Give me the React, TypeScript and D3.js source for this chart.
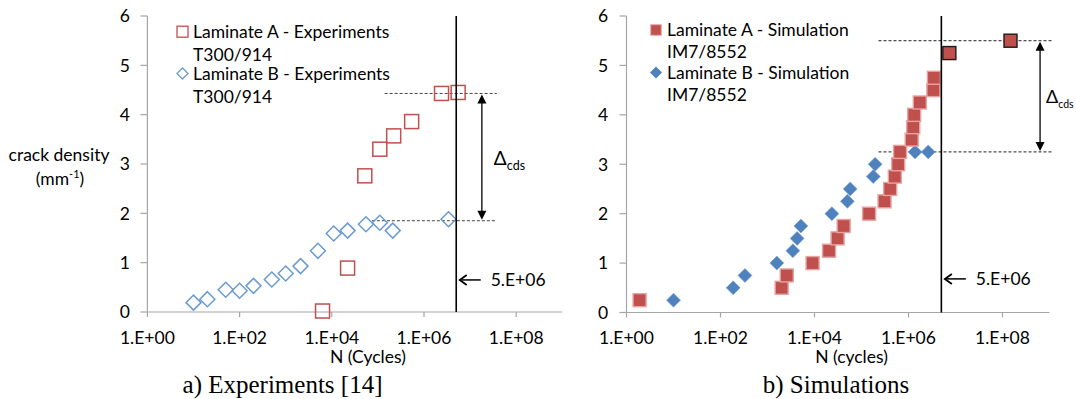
import React from "react";
import * as d3 from "d3";

// ---------- data ----------
const xTicks = [1, 1e2, 1e4, 1e6, 1e8];
const xTickLabels = ["1.E+00", "1.E+02", "1.E+04", "1.E+06", "1.E+08"];
const yTicks = [0, 1, 2, 3, 4, 5, 6];

// a) Experiments
const expA_N = [6300, 22000, 52000, 110000, 220000, 540000, 2.4e6, 5.5e6];
const expA_cd = [0.02, 0.89, 2.76, 3.3, 3.57, 3.86, 4.43, 4.45];
const expB_N = [10, 20, 50, 100, 200, 500, 1000, 2100, 5000, 11000, 22000, 55000, 110000, 210000, 3.4e6];
const expB_cd = [0.19, 0.26, 0.45, 0.43, 0.53, 0.66, 0.78, 0.93, 1.24, 1.59, 1.65, 1.78, 1.81, 1.65, 1.88];

// b) Simulations
const simA_N = [1.9, 2000, 2570, 9100, 20400, 31000, 41700, 145000, 309000, 407000, 513000, 603000, 661000, 1.17e6, 1.26e6, 1.32e6, 1.74e6, 3.39e6, 3.47e6];
const simA_cd = [0.25, 0.5, 0.75, 1.0, 1.25, 1.5, 1.75, 2.0, 2.25, 2.5, 2.75, 3.0, 3.25, 3.5, 3.75, 4.0, 4.25, 4.5, 4.75];
const simAHi_N = [7.4e6, 1.48e8];
const simAHi_cd = [5.25, 5.5];
const simB_N = [10, 186, 331, 1580, 3470, 4270, 5130, 23400, 50100, 57500, 178000, 195000, 1.38e6, 2.63e6];
const simB_cd = [0.25, 0.5, 0.75, 1.0, 1.25, 1.5, 1.75, 2.0, 2.25, 2.5, 2.75, 3.0, 3.25, 3.25];

const limitN = 5e6;
const expDelta = { top: 4.43, bottom: 1.85, topFrom: 1.4e5, bottomFrom: 7.4e4, to: 3.8e7, arrowN: 1.8e7 };
const simDelta = { top: 5.5, bottom: 3.25, topFrom: 2.3e5, bottomFrom: 2.3e5, to: 1.2e9, arrowN: 6.3e8 };

// ---------- style ----------
const FONT = "Lato, 'Open Sans', sans-serif";
const FS = 17.5;
const AXIS = "#a6a6a6";
const RED = "#c0504d";
const RED_EDGE = "#e6a3a1";
const BLUE = "#4f81bd";
const BLUE_OPEN = "#6a9bd3";

type PanelProps = {
  x0: number;
  x1: number;
  y0: number;
  y1: number;
  ylabelX: number;
  ylabelAnchor: string;
  xTitle: string;
  caption: string;
  captionX: number;
  children: (x: any, y: any) => React.ReactNode;
};

function Panel({ x0, x1, y0, y1, ylabelX, ylabelAnchor, xTitle, caption, captionX, children }: PanelProps) {
  const x = d3.scaleLog().domain([1, 1e9]).range([x0, x1]);
  const y = d3.scaleLinear().domain([0, 6]).range([y0, y1]);
  return (
    <g>
      {/* y axis */}
      <line x1={x0} x2={x0} y1={y(6)} y2={y(0)} stroke={AXIS} strokeWidth={1.2} />
      {yTicks.map((t) => (
        <g key={t}>
          <line x1={x0 - 7} x2={x0} y1={y(t)} y2={y(t)} stroke={AXIS} strokeWidth={1.2} />
          <text x={ylabelX} y={y(t)} dy="0.36em" textAnchor={ylabelAnchor} fontSize={FS} fontFamily={FONT} fill="#000">
            {t}
          </text>
        </g>
      ))}
      {/* x axis */}
      <line x1={x0} x2={x1} y1={y(0)} y2={y(0)} stroke={AXIS} strokeWidth={1.2} />
      {xTicks.map((t, i) => (
        <g key={t}>
          <line x1={x(t)} x2={x(t)} y1={y(0)} y2={y(0) + 5} stroke={AXIS} strokeWidth={1.2} />
          <text x={x(t)} y={344} textAnchor="middle" fontSize={FS} fontFamily={FONT} fill="#000">
            {xTickLabels[i]}
          </text>
        </g>
      ))}
      <text x={(x(1e4) + x(1e6)) / 2 - 10} y={363} textAnchor="middle" fontSize={FS} fontFamily={FONT} fill="#000">
        {xTitle}
      </text>
      <text x={captionX} y={393} textAnchor="middle" fontSize={25} fontFamily="'Liberation Serif', 'Times New Roman', serif" fill="#000">
        {caption}
      </text>
      {children(x, y)}
    </g>
  );
}

function square(cx: number, cy: number, s: number, props: any, key?: any) {
  return <rect key={key} x={cx - s / 2} y={cy - s / 2} width={s} height={s} {...props} />;
}
function diamond(cx: number, cy: number, r: number, props: any, key?: any) {
  return <path key={key} d={`M${cx},${cy - r}L${cx + r},${cy}L${cx},${cy + r}L${cx - r},${cy}Z`} {...props} />;
}

function DeltaArrow({ x, yTop, yBot }: { x: number; yTop: number; yBot: number }) {
  const h = 9, w = 4.5;
  return (
    <g>
      <line x1={x} x2={x} y1={yTop + h - 1} y2={yBot - h + 1} stroke="#000" strokeWidth={1.3} />
      <path d={`M${x},${yTop}L${x + w},${yTop + h}L${x - w},${yTop + h}Z`} fill="#000" />
      <path d={`M${x},${yBot}L${x + w},${yBot - h}L${x - w},${yBot - h}Z`} fill="#000" />
    </g>
  );
}

function LimitLabel({ lx, y }: { lx: number; y: number }) {
  const tip = lx + 3.5;
  return (
    <g>
      <line x1={tip} x2={tip + 21} y1={y} y2={y} stroke="#000" strokeWidth={1.5} />
      <path d={`M${tip + 7},${y - 5}L${tip},${y}L${tip + 7},${y + 5}`} fill="none" stroke="#000" strokeWidth={1.8} />
      <text x={tip + 31} y={y} dy="0.36em" fontSize={FS} fontFamily={FONT} fill="#000">
        5.E+06
      </text>
    </g>
  );
}

export default function App() {
  return (
    <svg
      width={1076}
      height={399}
      viewBox="0 0 1076 399"
      style={{ position: "absolute", left: 0, top: 0, background: "#fff" }}
    >
      <rect width={1076} height={399} fill="#fff" />
      {/* y axis title */}
      <text x={59} y={155} dy="0.36em" textAnchor="middle" fontSize={FS} fontFamily={FONT}>
        crack density
      </text>
      <text x={60} y={179} dy="0.36em" textAnchor="middle" fontSize={FS} fontFamily={FONT}>
        (mm<tspan fontSize={11} dy={-7}>-1</tspan>
        <tspan dy={7}>)</tspan>
      </text>

      <Panel x0={147.4} x1={562.3} y0={312} y1={16} ylabelX={130} ylabelAnchor="end" xTitle="N (Cycles)" caption="a) Experiments [14]" captionX={282.5}>
        {(x, y) => (
          <g>
            {/* dashed lines */}
            <line x1={x(expDelta.topFrom)} x2={x(expDelta.to)} y1={y(expDelta.top)} y2={y(expDelta.top)} stroke="#444" strokeWidth={1} strokeDasharray="3,2" />
            <line x1={x(expDelta.bottomFrom)} x2={x(expDelta.to)} y1={y(expDelta.bottom)} y2={y(expDelta.bottom)} stroke="#444" strokeWidth={1} strokeDasharray="3,2" />
            {expB_N.map((n, i) => diamond(x(n), y(expB_cd[i]), 7.5, { fill: "none", stroke: BLUE_OPEN, strokeWidth: 1.5 }, "b" + i))}
            {expA_N.map((n, i) => square(x(n), y(expA_cd[i]), 14, { fill: "none", stroke: RED, strokeWidth: 1.5 }, "a" + i))}
            <line x1={x(limitN)} x2={x(limitN)} y1={y(6)} y2={y(0)} stroke="#000" strokeWidth={1.6} />
            <DeltaArrow x={x(expDelta.arrowN)} yTop={y(expDelta.top) + 1} yBot={y(expDelta.bottom) - 1} />
            <text x={x(expDelta.arrowN) + 12} y={165} fontSize={19} fontFamily={FONT}>
              Δ<tspan fontSize={12.5} dy={5}>cds</tspan>
            </text>
            <LimitLabel lx={x(limitN)} y={y(0.65)} />
            {/* legend */}
            {square(182.5, 31.7, 11, { fill: "none", stroke: RED, strokeWidth: 1.3 })}
            {diamond(182.5, 73.5, 5.5, { fill: "none", stroke: BLUE_OPEN, strokeWidth: 1.3 })}
            {[["Laminate A - Experiments", 31.7], ["T300/914", 54.3], ["Laminate B - Experiments", 73.5], ["T300/914", 96.5]].map(([t, yy]: any, i) => (
              <text key={i} x={193} y={yy} dy="0.36em" fontSize={FS} fontFamily={FONT}>
                {t}
              </text>
            ))}
          </g>
        )}
      </Panel>

      <Panel x0={626.5} x1={1049.5} y0={312.5} y1={16} ylabelX={603} ylabelAnchor="middle" xTitle="N (cycles)" caption="b) Simulations" captionX={836}>
        {(x, y) => (
          <g>
            <line x1={x(simDelta.topFrom)} x2={x(simDelta.to)} y1={y(simDelta.top)} y2={y(simDelta.top)} stroke="#222" strokeWidth={1} strokeDasharray="3,2" />
            <line x1={x(simDelta.bottomFrom)} x2={x(simDelta.to)} y1={y(simDelta.bottom)} y2={y(simDelta.bottom)} stroke="#222" strokeWidth={1} strokeDasharray="3,2" />
            {simB_N.map((n, i) => diamond(x(n), y(simB_cd[i]), 7, { fill: BLUE, stroke: "#7ea6d6", strokeWidth: 0.6 }, "b" + i))}
            {simA_N.map((n, i) => square(x(n), y(simA_cd[i]), 13, { fill: RED, stroke: RED_EDGE, strokeWidth: 1.4 }, "a" + i))}
            <line x1={x(limitN)} x2={x(limitN)} y1={y(6)} y2={y(0)} stroke="#000" strokeWidth={1.6} />
            {simAHi_N.map((n, i) => square(x(n), y(simAHi_cd[i]), 13, { fill: RED, stroke: "#1a1a1a", strokeWidth: 1.4 }, "h" + i))}
            <DeltaArrow x={x(simDelta.arrowN)} yTop={y(simDelta.top) + 1} yBot={y(simDelta.bottom) - 1} />
            <text x={x(simDelta.arrowN) + 6} y={103} fontSize={18} fontFamily={FONT}>
              Δ<tspan fontSize={10.5} dy={5}>cds</tspan>
            </text>
            <LimitLabel lx={x(limitN)} y={y(0.68)} />
            {square(656, 30, 10.5, { fill: RED, stroke: RED_EDGE, strokeWidth: 1 })}
            {diamond(656, 72.5, 6, { fill: BLUE, stroke: "none" })}
            {[["Laminate A - Simulation", 30], ["IM7/8552", 51.7], ["Laminate B - Simulation", 72.7], ["IM7/8552", 95]].map(([t, yy]: any, i) => (
              <text key={i} x={667} y={yy} dy="0.36em" fontSize={FS} fontFamily={FONT}>
                {t}
              </text>
            ))}
          </g>
        )}
      </Panel>
    </svg>
  );
}
